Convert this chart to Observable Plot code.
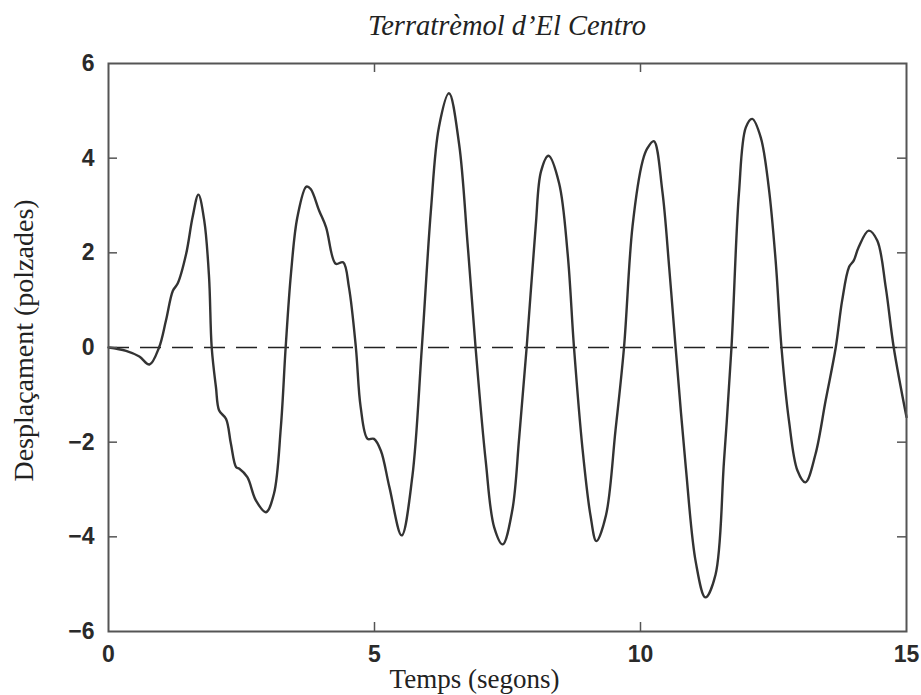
<!DOCTYPE html>
<html>
<head>
<meta charset="utf-8">
<script src="https://cdn.jsdelivr.net/npm/d3@7"></script>
<script src="https://cdn.jsdelivr.net/npm/@observablehq/plot@0.6"></script>
<style>
  body { margin: 0; background: #fff; }
  #title {
    box-sizing: border-box; width: 921px; height: 50px;
    padding: 1px 15px 0 108px; line-height: 50px; text-align: center;
    font-family: "Liberation Serif", "Times New Roman", serif; font-style: italic;
    font-size: 28.5px; color: #222; overflow: visible; white-space: nowrap;
  }
</style>
</head>
<body>
<div id="title"></div>
<div id="chart"></div>
<script>
const titleText = "Terratrèmol d’El Centro";
const xLabel = "Temps (segons)";
const yLabel = "Desplaçament (polzades)";
const xTicks = [0, 5, 10, 15];
const yTicks = [-6, -4, -2, 0, 2, 4, 6];

// Time (s) and displacement (in)
const time = [
  0, 0.33, 0.58, 0.77, 0.95, 1.08, 1.21, 1.30, 1.46, 1.58, 1.69, 1.80, 1.89, 1.94,
  2.02, 2.08, 2.21, 2.30, 2.40, 2.46, 2.61, 2.77, 2.96, 3.11, 3.24, 3.33, 3.43, 3.55,
  3.72, 3.80, 3.96, 4.09, 4.27, 4.41, 4.52, 4.65, 4.74, 4.87, 4.99, 5.12, 5.28, 5.51,
  5.71, 5.89, 6.06, 6.21, 6.40, 6.59, 6.75, 6.90, 7.09, 7.25, 7.41, 7.59, 7.72, 7.86,
  8.03, 8.13, 8.27, 8.47, 8.63, 8.75, 8.91, 9.06, 9.17, 9.35, 9.53, 9.69, 9.85, 10.04,
  10.13, 10.25, 10.41, 10.54, 10.66, 10.85, 11.04, 11.22, 11.41, 11.57, 11.71, 11.85,
  11.98, 12.10, 12.26, 12.41, 12.54, 12.65, 12.79, 12.95, 13.10, 13.29, 13.48, 13.67,
  13.79, 13.92, 14.01, 14.10, 14.29, 14.45, 14.61, 14.76, 15.0
];
const displacement = [
  0, -0.07, -0.19, -0.36, 0, 0.57, 1.20, 1.35, 1.98, 2.75, 3.23, 2.68, 1.49, 0,
  -0.84, -1.33, -1.51, -2.03, -2.53, -2.56, -2.74, -3.23, -3.48, -3.09, -1.68, 0, 1.56, 2.75,
  3.40, 3.35, 2.89, 2.54, 1.77, 1.80, 1.27, 0, -1.26, -1.93, -1.93, -2.18, -2.95, -3.97,
  -2.74, 0, 2.89, 4.65, 5.37, 4.30, 2.19, 0, -2.39, -3.80, -4.16, -3.44, -1.9, 0,
  2.56, 3.72, 4.05, 3.47, 1.99, 0, -2.14, -3.55, -4.09, -3.55, -1.75, 0, 2.56, 3.94,
  4.21, 4.36, 3.31, 1.68, 0, -2.51, -4.54, -5.28, -4.80, -2.39, 0, 3.25,
  4.65, 4.83, 4.44, 3.39, 1.84, 0, -1.54, -2.60, -2.85, -2.25, -1.12, 0,
  0.99, 1.70, 1.84, 2.12, 2.47, 2.26, 1.27, 0, -1.47
];

document.getElementById("title").textContent = titleText;

const data = time.map((t, i) => ({t, d: displacement[i]}));

const W = 921, H = 645;
const mL = 108, mR = 15, mT = 13, mB = 64;
const tickLen = 9;
const xPerPx = 15 / (W - mL - mR);
const yPerPx = 12 / (H - mT - mB);
const sans = "Liberation Sans, Arial, Helvetica, sans-serif";
const serif = "Liberation Serif, Times New Roman, serif";

const chart = Plot.plot({
  width: W,
  height: H,
  marginLeft: mL,
  marginRight: mR,
  marginTop: mT,
  marginBottom: mB,
  x: {domain: [0, 15]},
  y: {domain: [-6, 6]},
  style: {background: "#fff", color: "#222"},
  marks: [
    Plot.ruleY([0], {stroke: "#222", strokeWidth: 1.6, strokeDasharray: "21,11"}),
    Plot.line(data, {x: "t", y: "d", stroke: "#333", strokeWidth: 2.4, curve: "catmull-rom"}),
    // inward ticks on all four sides
    Plot.ruleX(xTicks.slice(1, -1), {x: d => d, y1: -6, y2: -6 + tickLen * yPerPx, stroke: "#555", strokeWidth: 1.5}),
    Plot.ruleX(xTicks.slice(1, -1), {x: d => d, y1: 6, y2: 6 - tickLen * yPerPx, stroke: "#555", strokeWidth: 1.5}),
    Plot.ruleY(yTicks.slice(1, -1), {y: d => d, x1: 0, x2: tickLen * xPerPx, stroke: "#555", strokeWidth: 1.5}),
    Plot.ruleY(yTicks.slice(1, -1), {y: d => d, x1: 15, x2: 15 - tickLen * xPerPx, stroke: "#555", strokeWidth: 1.5}),
    Plot.frame({stroke: "#555", strokeWidth: 2}),
    Plot.axisX(xTicks, {tickSize: 0, tickPadding: 14, fontSize: 23, fontWeight: "bold", fontFamily: sans, fill: "#2a2a2a", label: null}),
    Plot.axisY(yTicks, {tickSize: 0, tickPadding: 14, fontSize: 23, fontWeight: "bold", fontFamily: sans, fill: "#2a2a2a", label: null}),
    Plot.text([xLabel], {text: d => d, frameAnchor: "bottom", lineAnchor: "bottom", dx: -33, dy: 56, fontSize: 27, fontFamily: serif, fill: "#222"}),
    Plot.text([yLabel], {text: d => d, frameAnchor: "left", textAnchor: "middle", lineAnchor: "middle", rotate: -90, dx: -84, dy: -7, fontSize: 28, fontFamily: serif, fill: "#222"})
  ]
});
document.getElementById("chart").appendChild(chart);
</script>
</body>
</html>
